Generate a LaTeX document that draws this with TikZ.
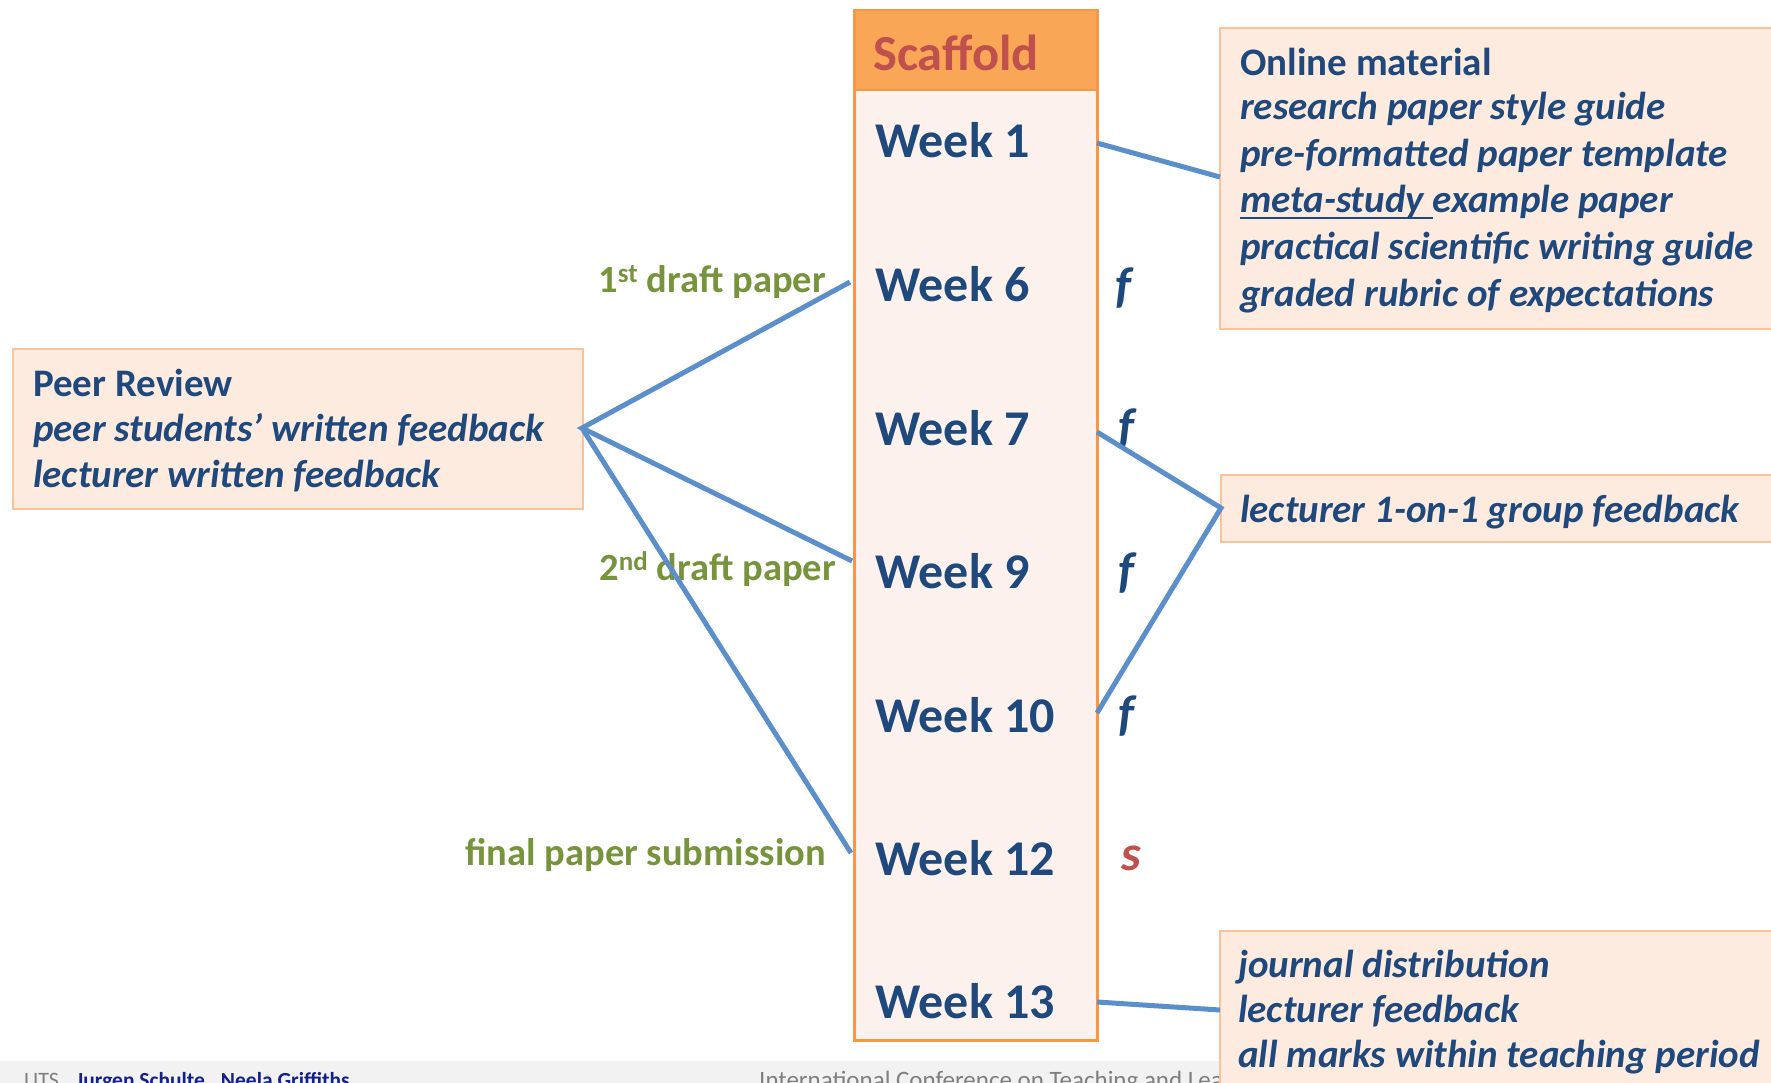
\documentclass[tikz,border=0pt]{standalone}
\usepackage{fontspec}
\setmainfont{Carlito}
\definecolor{navy}{HTML}{1F497D}
\definecolor{scafred}{HTML}{C0504D}
\definecolor{grn}{HTML}{77933C}
\definecolor{orangeline}{HTML}{F79646}
\definecolor{headfill}{HTML}{F9A757}
\definecolor{colfill}{HTML}{FCF1EC}
\definecolor{boxfill}{HTML}{FDEBDF}
\definecolor{boxline}{HTML}{FAC39A}
\definecolor{conn}{HTML}{5B8FCA}
\definecolor{footfill}{HTML}{F2F2F2}
\definecolor{footgrey}{HTML}{7F7F7F}
\definecolor{footblue}{HTML}{14208C}
\newcommand\ulmeta[1]{\setbox0\hbox{#1}\rlap{\rule[-6pt]{\wd0}{1.8pt}}\box0}
\begin{document}
\begin{tikzpicture}[x=1pt,y=-1pt,
  box/.style={draw=boxline, fill=boxfill, line width=2pt, inner sep=0pt, anchor=north west},
  txt/.style={anchor=base west, inner sep=0pt, text=navy, font=\bfseries\itshape\fontsize{39}{39}\selectfont},
  headtxt/.style={anchor=base west, inner sep=0pt, text=navy, font=\bfseries\fontsize{39}{39}\selectfont},
  wk/.style={anchor=base west, inner sep=0pt, text=navy, font=\bfseries\fontsize{50}{50}\selectfont},
  fmark/.style={anchor=base west, inner sep=0pt, text=navy, font=\bfseries\itshape\fontsize{50}{50}\selectfont},
  grlab/.style={anchor=base east, inner sep=0pt, text=grn, font=\bfseries\fontsize{38.5}{38.5}\selectfont},
  conline/.style={draw=conn, line width=5pt},
  foot/.style={anchor=base west, inner sep=0pt, font=\fontsize{22}{22}\selectfont}
]
\useasboundingbox (0,0) rectangle (1771,1083);
\clip (0,0) rectangle (1771,1083);

% footer
\node (footer) [fill=footfill, minimum width=1771pt, minimum height=24pt, inner sep=0pt, anchor=north west] at (0,1061) {};
\node (uts) [foot, text=footgrey] at (24,1087) {UTS};
\node (authors) [foot, text=footblue, font=\bfseries\fontsize{21.5}{21.5}\selectfont] at (76,1087) {Jurgen Schulte\hspace{16pt}Neela Griffiths};
\node (conf) [foot, text=footgrey, font=\fontsize{25}{25}\selectfont] at (759,1088) {International Conference on Teaching and Learning};

% scaffold column
\node (col) [draw=orangeline, fill=colfill, line width=2.5pt, minimum width=243pt, minimum height=950pt, inner sep=0pt, anchor=north west] at (853,89) {};
\node (head) [draw=orangeline, fill=headfill, line width=2.5pt, minimum width=243pt, minimum height=80pt, inner sep=0pt, anchor=north west] at (853,9) {};
\node (scaf) [anchor=base west, inner sep=0pt, text=scafred, font=\bfseries\fontsize{50.5}{50.5}\selectfont] at (873,71) {Scaffold};

\node (w1)  [wk] at (875,158)   {Week 1};
\node (w6)  [wk] at (875,301.5) {Week 6};
\node (w7)  [wk] at (875,445)   {Week 7};
\node (w9)  [wk] at (875,588.5) {Week 9};
\node (w10) [wk] at (875,732)   {Week 10};
\node (w12) [wk] at (875,875)   {Week 12};
\node (w13) [wk] at (875,1018)  {Week 13};

\node (f6)  [fmark] at (1115,302) {f};
\node (f7)  [fmark] at (1118,443) {f};
\node (f9)  [fmark] at (1118,587) {f};
\node (f10) [fmark] at (1118,730) {f};
\node (s12) [fmark, text=scafred] at (1121,870) {s};

% green labels
\node (d1) [grlab] at (826,292) {1\textsuperscript{st} draft paper};
\node (d2) [grlab] at (836,580) {2\textsuperscript{nd} draft paper};
\node (fin) [grlab] at (826,865) {final paper submission};

% peer review box
\node (peer) [box, minimum width=570pt, minimum height=160pt] at (12,348) {};
\node (peer1) [headtxt] at (33,396) {Peer Review};
\node (peer2) [txt] at (33,441) {peer students’ written feedback};
\node (peer3) [txt] at (33,487) {lecturer written feedback};

% online material box
\node (online) [box, minimum width=572pt, minimum height=301pt] at (1219,27) {};
\node (on1) [headtxt] at (1240,76) {Online material};
\node (on2) [txt] at (1240,120) {research paper style guide};
\node (on3) [txt] at (1240,166.5) {pre-formatted paper template};
\node (on4) [txt] at (1240,213) {\ulmeta{meta-study }example paper};
\node (on5) [txt] at (1240,259.5) {practical scientific writing guide};
\node (on6) [txt] at (1240,306) {graded rubric of expectations};

% lecturer 1-on-1 box
\node (lect) [box, minimum width=572pt, minimum height=67pt] at (1220,474) {};
\node (lect1) [txt] at (1240,522) {lecturer 1-on-1 group feedback};

% final box
\node (fbox) [box, minimum width=572pt, minimum height=160pt] at (1219,930) {};
\node (fb1) [txt] at (1238,977) {journal distribution};
\node (fb2) [txt] at (1238,1022) {lecturer feedback};
\node (fb3) [txt] at (1238,1067) {all marks within teaching period};

% connector end points
\coordinate (hub) at (582,428);
\coordinate (p6) at (850,282);
\coordinate (p9) at (852,561);
\coordinate (p12) at (851,853);
\coordinate (q1) at (1097,143);
\coordinate (q7) at (1097,432);
\coordinate (q10) at (1097,713);
\coordinate (q13) at (1097,1002);
\coordinate (onl) at (1220,177);
\coordinate (lecl) at (1221,508);
\coordinate (fbl) at (1220,1010);

\draw[conline] (p6) -- (hub) -- (p9);
\draw[conline] (hub) -- (p12);
\draw[conline] (q1) -- (onl);
\draw[conline] (q7) -- (lecl) -- (q10);
\draw[conline] (q13) -- (fbl);
\end{tikzpicture}
\end{document}
